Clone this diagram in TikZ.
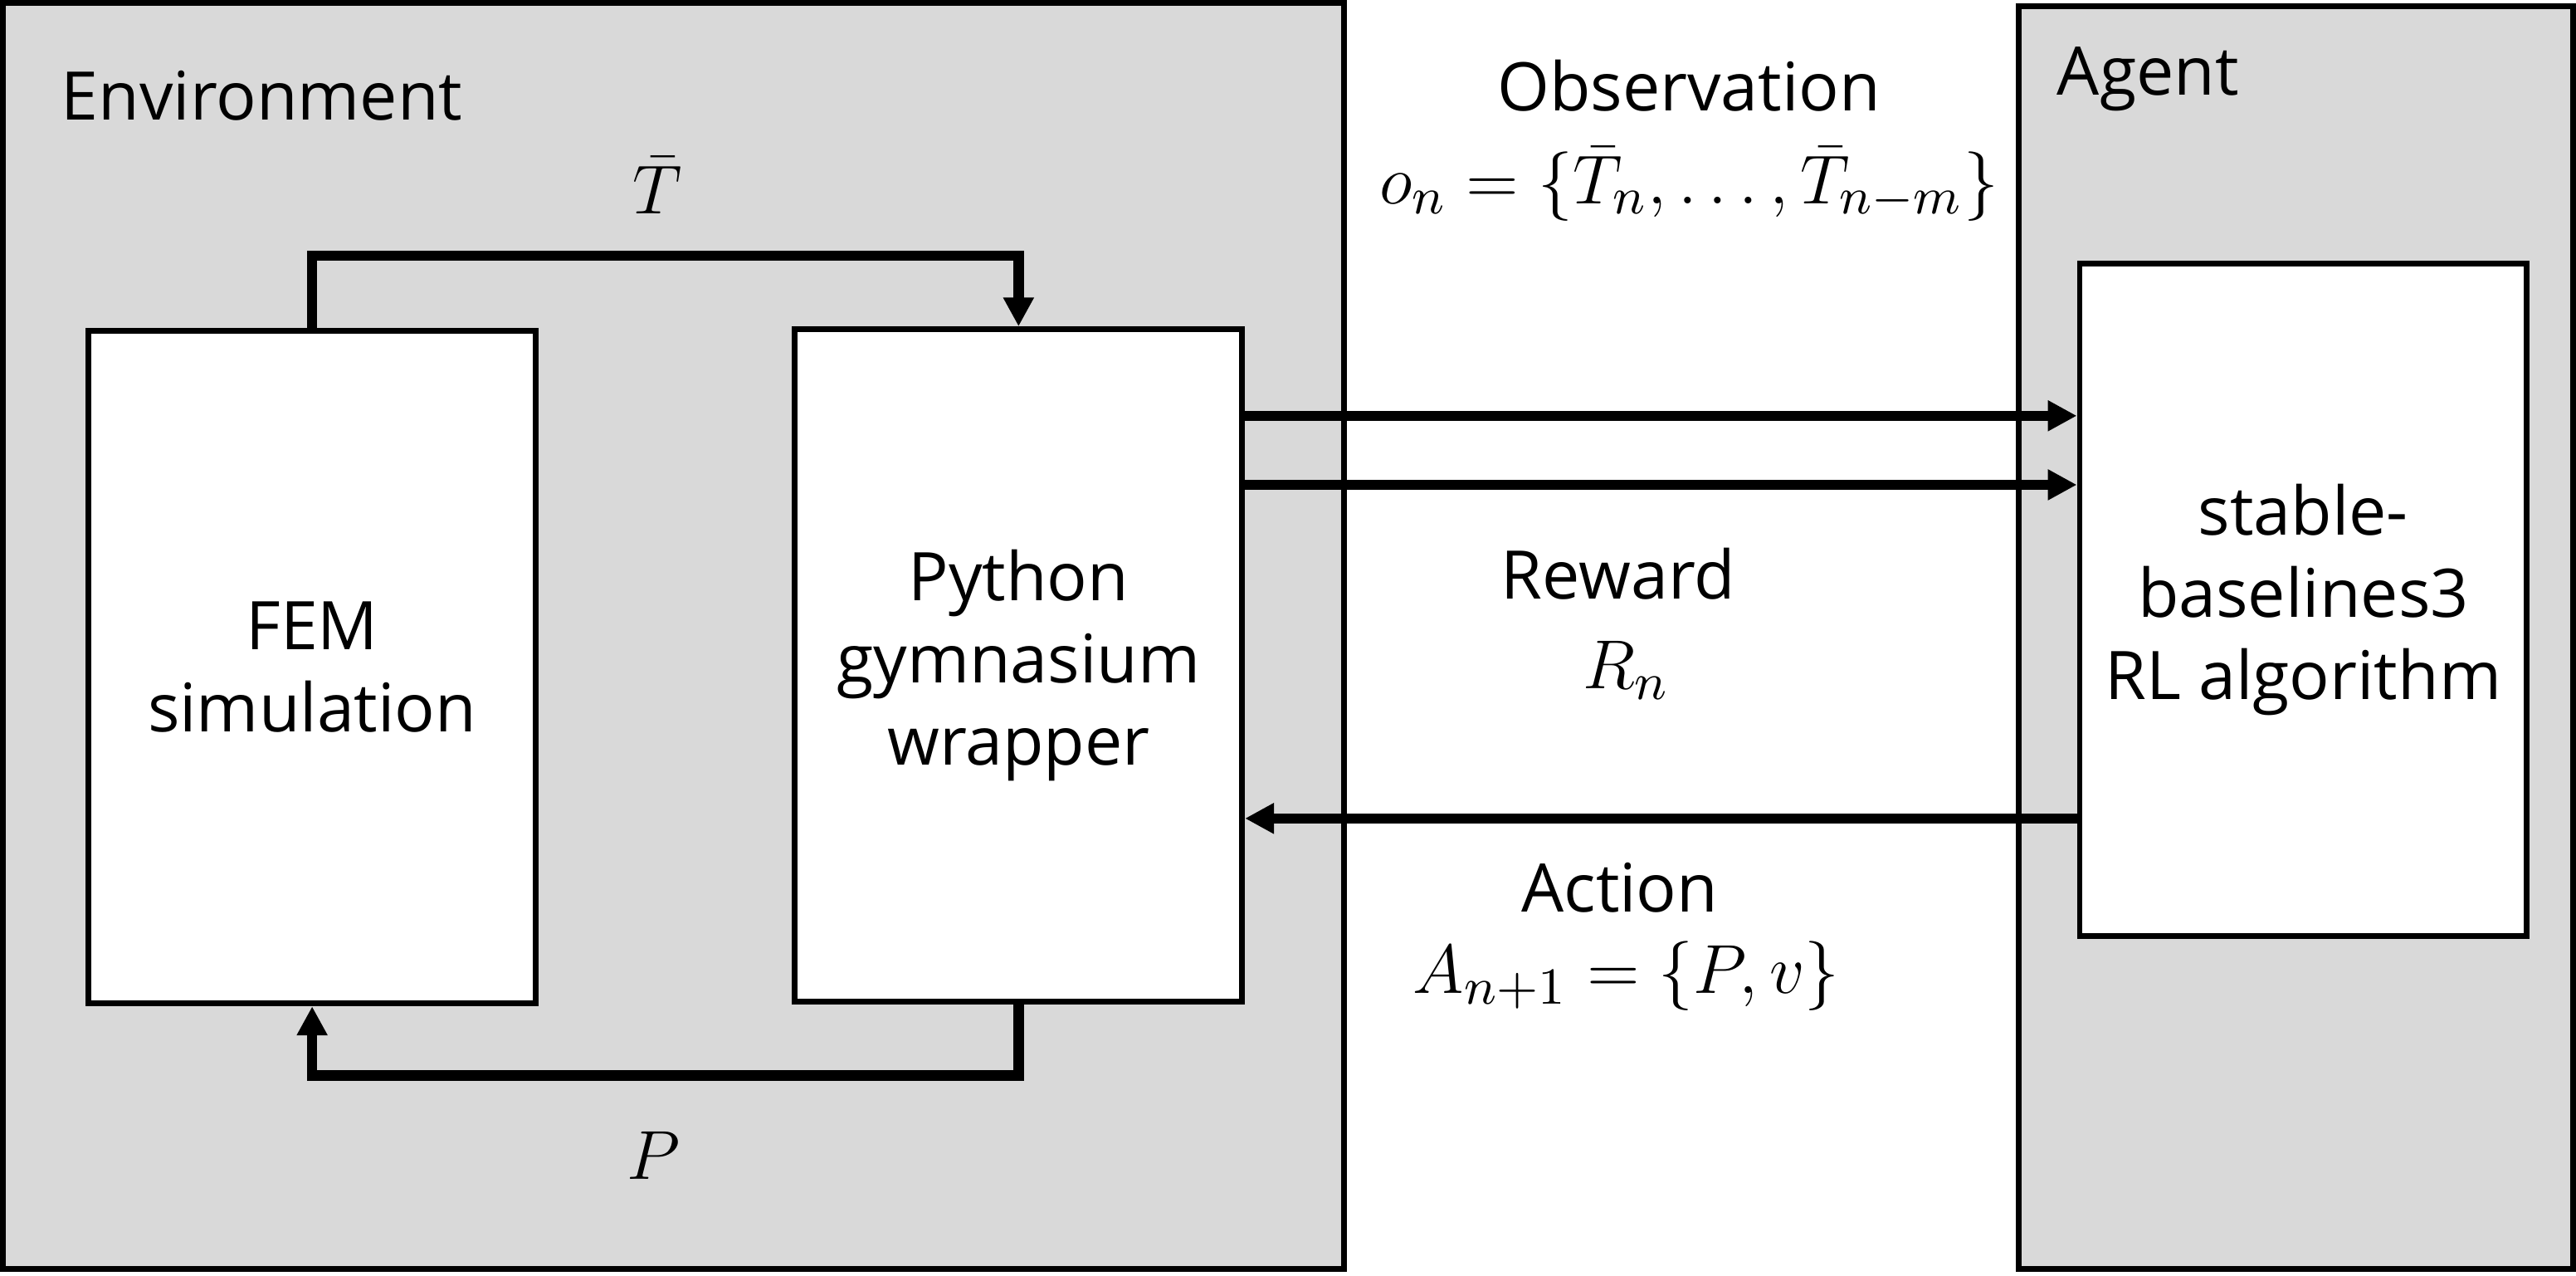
\documentclass[tikz,border=0pt]{standalone}
\usepackage{amsmath}
\usepackage{fontspec}
\setmainfont{Open Sans}
\usepackage{tikz}
\usetikzlibrary{arrows.meta}
\definecolor{panelgray}{HTML}{D9D9D9}

\begin{document}
\begin{tikzpicture}
[x=0.01cm,y=-0.01cm,
 every node/.style={font=\fontsize{11.6}{14.2}\selectfont},
 panel/.style={draw,line width=1pt,fill=panelgray},
 block/.style={draw,line width=1pt,fill=white,align=center,
   minimum width=2.72cm,minimum height=4.09cm,inner sep=0pt},
 label/.style={align=center,inner sep=1pt},
 mathlabel/.style={label,font=\fontsize{12.8}{15}\selectfont},
 flow/.style={line width=1.8pt,-{Triangle[length=5pt,width=5pt]}}]
\useasboundingbox (0,0) rectangle (1568,776);
% the two panels
\draw[panel] (2,2) rectangle (818,772);
\draw[panel] (1229,4) rectangle (1566,772);
\node[label,anchor=west] (envtitle) at (33,58) {Environment};
\node[label,anchor=west] (agenttitle) at (1248,48) {Agent};
% blocks
\node[block] (fem) at (190,406) {FEM\\simulation};
\node[block] (py) at (620,405) {Python\\gymnasium\\wrapper};
\node[block] (rl) at (1402,365) {stable-\\baselines3\\RL algorithm};
% loop inside the environment
\draw[flow] (fem.north) -- ++(0,-44) -| (py.north);
\draw[flow] (py.south) -- ++(0,43) -| (fem.south);
\node[mathlabel] (tbar) at (400,113) {$\bar{T}$};
\node[mathlabel] (pval) at (398,703) {$P$};
% between environment and agent
\foreach \y in {253,295}
	\draw[flow] (py.east |- 0,\y) -- (rl.west |- 0,\y);
\draw[flow] (rl.west |- 0,498) -- (py.east |- 0,498);
\node[label] (obs) at (1028,52) {Observation};
\node[mathlabel] (obsmath) at (1028,112) {$o_n=\{\bar{T}_n,\dots,\bar{T}_{n-m}\}$};
\node[label] (rew) at (985,349) {Reward};
\node[mathlabel] (rewmath) at (990,408) {$R_n$};
\node[label] (act) at (986,540) {Action};
\node[mathlabel] (actmath) at (990,594) {$A_{n+1}=\{P,v\}$};
\end{tikzpicture}
\end{document}
